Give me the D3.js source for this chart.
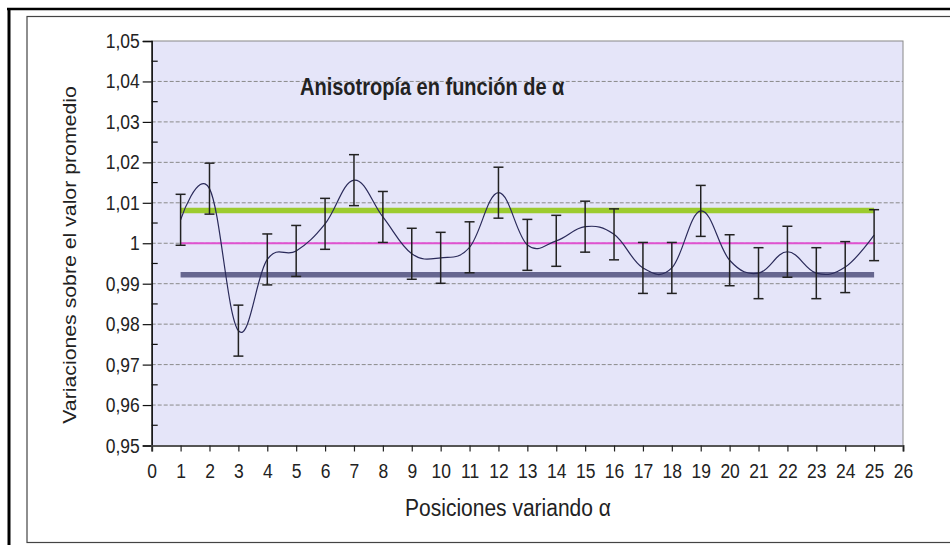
<!DOCTYPE html>
<html><head><meta charset="utf-8">
<script src="https://cdn.jsdelivr.net/npm/d3@7"></script>
<style>
body{margin:0;background:#fff}
svg{display:block}
text{font-family:"Liberation Sans",Arial,sans-serif;fill:#222}
</style>
</head><body>
<svg id="c" width="950" height="545"></svg>
<script>
// ---- data ----
const positions = [1,2,3,4,5,6,7,8,9,10,11,12,13,14,15,16,17,18,19,20,21,22,23,24,25];
const values = [1.0058,1.0135,0.9784,0.9960,0.9981,1.0048,1.0156,1.0065,0.9974,0.9964,0.9990,1.0125,0.9996,1.0006,1.0041,1.0022,0.9939,0.9939,1.0080,0.9958,0.9926,0.9979,0.9926,0.9941,1.0020];
const errors = [0.0063,0.0063,0.0063,0.0063,0.0063,0.0063,0.0063,0.0063,0.0063,0.0063,0.0063,0.0063,0.0063,0.0063,0.0063,0.0063,0.0063,0.0063,0.0063,0.0063,0.0063,0.0063,0.0063,0.0063,0.0063];
const refNames = ["upper","mean","lower"];
const refValues = [1.0081,1.0000,0.9922];
const refRange = [1,25];
const xTicks = [0,1,2,3,4,5,6,7,8,9,10,11,12,13,14,15,16,17,18,19,20,21,22,23,24,25,26];
const yTicks = [0.95,0.96,0.97,0.98,0.99,1.00,1.01,1.02,1.03,1.04,1.05];
const yTickLabels = ["0,95","0,96","0,97","0,98","0,99","1","1,01","1,02","1,03","1,04","1,05"];
const yMinorTicks = [0.955,0.965,0.975,0.985,0.995,1.005,1.015,1.025,1.035,1.045];
const titleText = "Anisotropía en función de α";
const xTitle = "Posiciones variando α";
const yTitle = "Variaciones sobre el valor promedio";

// ---- layout / styles ----
const svg = d3.select("#c");
const L = 151.7, R = 903, T = 41, B = 445.5;
const x = d3.scaleLinear().domain([0,26]).range([L,R]);
const y = d3.scaleLinear().domain([0.95,1.05]).range([B,T]);
const refStyles = {upper:{c:"#9ccb2f",w:5.5}, mean:{c:"#e052d0",w:2}, lower:{c:"#66668f",w:5.5}};
const FONT = "'Liberation Sans',Arial,sans-serif";
const SY = 1.15;

// frames
svg.append("rect").attr("x",27).attr("y",16.5).attr("width",940).attr("height",526)
  .attr("fill","#fff").attr("stroke","#444").attr("stroke-width",1.2);
svg.append("line").attr("x1",7).attr("x2",950).attr("y1",9).attr("y2",9).attr("stroke","#000").attr("stroke-width",2.5);
svg.append("line").attr("x1",9).attr("x2",9).attr("y1",8).attr("y2",545).attr("stroke","#000").attr("stroke-width",3);

// plot background
svg.append("rect").attr("x",L).attr("y",T).attr("width",R-L).attr("height",B-T)
  .attr("fill","#e5e5f9").attr("stroke","#888").attr("stroke-width",1);

// gridlines
svg.append("g").selectAll("line").data(yTicks.slice(1,-1)).join("line")
  .attr("x1",L).attr("x2",R).attr("y1",d=>y(d)).attr("y2",d=>y(d))
  .attr("stroke","#8a8a8a").attr("stroke-width",1).attr("stroke-dasharray","4,2");

// y axis
const yAxis = d3.axisLeft(y).tickValues(yTicks).tickSize(9).tickPadding(3)
  .tickFormat((d,i)=>yTickLabels[i]);
const gy = svg.append("g").attr("transform",`translate(${L},0)`).call(yAxis);
gy.select(".domain").attr("stroke","#111").attr("stroke-width",1.5);
gy.selectAll(".tick line").attr("stroke","#111").attr("stroke-width",1.2);
gy.selectAll(".tick text").attr("font-size",17.5).attr("fill","#2a2a2a").style("font-family",FONT)
  .attr("dy",null).attr("y",6.5/SY).attr("transform",`scale(1,${SY})`);
svg.append("g").selectAll("line").data(yMinorTicks).join("line")
  .attr("x1",L).attr("x2",L+6).attr("y1",d=>y(d)).attr("y2",d=>y(d))
  .attr("stroke","#111").attr("stroke-width",1.2);

// x axis
const xAxis = d3.axisBottom(x).tickValues(xTicks).tickSize(6).tickPadding(6).tickFormat(d3.format("d"));
const gx = svg.append("g").attr("transform",`translate(0,${B})`).call(xAxis);
gx.select(".domain").attr("stroke","#555").attr("stroke-width",2);
gx.selectAll(".tick line").attr("stroke","#222").attr("stroke-width",1.2);
gx.selectAll(".tick text").attr("font-size",17.5).attr("fill","#2a2a2a").style("font-family",FONT)
  .attr("dy",null).attr("y",32.5/SY).attr("transform",`scale(1,${SY})`);

// reference lines
svg.append("g").selectAll("line").data(refNames).join("line")
  .attr("x1",x(refRange[0])).attr("x2",x(refRange[1]))
  .attr("y1",(d,i)=>y(refValues[i])).attr("y2",(d,i)=>y(refValues[i]))
  .attr("stroke",d=>refStyles[d].c).attr("stroke-width",d=>refStyles[d].w);

// smoothed curve
const pts = positions.map((p,i)=>[x(p),y(values[i])]);
svg.append("path").attr("d",d3.line().curve(d3.curveCardinal.tension(-0.15))(pts))
  .attr("fill","none").attr("stroke","#2a2a5a").attr("stroke-width",1.2);

// error bars
const eb = svg.append("g").attr("stroke","#222").attr("stroke-width",1.5);
positions.forEach((p,i)=>{
  const cx = x(p), y1 = y(values[i]+errors[i]), y2 = y(values[i]-errors[i]);
  eb.append("line").attr("x1",cx).attr("x2",cx).attr("y1",y1).attr("y2",y2);
  eb.append("line").attr("x1",cx-5).attr("x2",cx+5).attr("y1",y1).attr("y2",y1);
  eb.append("line").attr("x1",cx-5).attr("x2",cx+5).attr("y1",y2).attr("y2",y2);
});

// titles
svg.append("text").attr("transform","translate(300,95) scale(1,1.2)").attr("font-size",20).attr("font-weight","bold")
  .attr("fill","#1a1a1a").text(titleText);
svg.append("text").attr("transform","translate(508,516) scale(1,1.1)").attr("text-anchor","middle").attr("font-size",21)
  .attr("fill","#2a2a2a").text(xTitle);
svg.append("text").attr("transform","translate(76,255) rotate(-90) scale(1.15,1)").attr("text-anchor","middle")
  .attr("font-size",18.5).attr("fill","#2a2a2a").text(yTitle);
</script>
</body></html>
